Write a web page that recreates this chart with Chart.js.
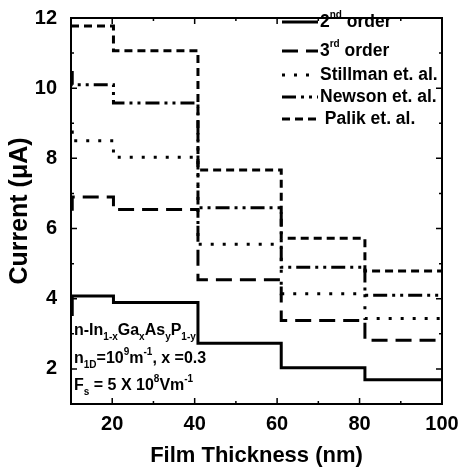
<!DOCTYPE html>
<html>
<head>
<meta charset="utf-8">
<script src="https://cdn.jsdelivr.net/npm/chart.js@4.4.1/dist/chart.umd.min.js"></script>
<style>
  html, body { margin: 0; padding: 0; background: #fff; }
</style>
</head>
<body>
<canvas id="chart" width="467" height="469"></canvas>
<script>
// step edges along the film thickness axis (nm)
const edges = [10, 10.3, 20.3, 40.8, 61, 81.3, 100];

// current (uA) on each step, starting at the matching edge
const secondOrder = [3.55, 4.08, 3.89, 2.73, 2.03, 1.69];
const thirdOrder = [6.55, 6.9, 6.54, 4.54, 3.38, 2.82];
const stillman = [8.75, 8.5, 8.03, 5.55, 4.14, 3.44];
const newson = [10.45, 10.1, 9.58, 6.59, 4.9, 4.1];
const palik = [11.77, 11.77, 11.07, 7.67, 5.72, 4.79];

const xTicksLabelled = [20, 40, 60, 80, 100];
const yTicksLabelled = [2, 4, 6, 8, 10, 12];

const FONT = "'Liberation Sans', Arial, sans-serif";

function steps(vals) {
  return edges.map((x, i) => ({ x, y: vals[Math.min(i, vals.length - 1)] }));
}

function series(label, vals, dash, legendText) {
  return {
    label,
    legendText,
    data: steps(vals),
    borderColor: "#000",
    borderWidth: 3,
    borderDash: dash,
    borderCapStyle: "butt",
    pointRadius: 0,
    stepped: "before",
    fill: false,
  };
}

// draws a run of text pieces: [text, "n" | "sup" | "sub"]
function drawRich(ctx, x, y, parts, size, small) {
  ctx.textBaseline = "middle";
  ctx.textAlign = "left";
  parts.forEach(([txt, kind]) => {
    let dy = 0;
    if (kind === "n") {
      ctx.font = `bold ${size}px ${FONT}`;
    } else {
      ctx.font = `bold ${small}px ${FONT}`;
      dy = kind === "sup" ? -7 : 6;
    }
    ctx.fillText(txt, x, y + dy);
    x += ctx.measureText(txt).width;
  });
}

const decorPlugin = {
  id: "decor",
  afterDraw(chart) {
    const { ctx, chartArea: a, scales } = chart;
    ctx.save();
    ctx.strokeStyle = "#000";
    ctx.fillStyle = "#000";

    // inward tick marks on all four sides
    ctx.lineWidth = 1.5;
    scales.x.ticks.forEach((t) => {
      const px = scales.x.getPixelForValue(t.value);
      const len = xTicksLabelled.includes(t.value) ? 6 : 3;
      ctx.beginPath();
      ctx.moveTo(px, a.bottom);
      ctx.lineTo(px, a.bottom - len);
      ctx.moveTo(px, a.top);
      ctx.lineTo(px, a.top + len);
      ctx.stroke();
    });
    scales.y.ticks.forEach((t) => {
      const py = scales.y.getPixelForValue(t.value);
      const len = yTicksLabelled.includes(t.value) ? 6 : 3;
      ctx.beginPath();
      ctx.moveTo(a.left, py);
      ctx.lineTo(a.left + len, py);
      ctx.moveTo(a.right, py);
      ctx.lineTo(a.right - len, py);
      ctx.stroke();
    });

    // frame
    ctx.lineWidth = 2;
    ctx.strokeRect(a.left, a.top, a.right - a.left, a.bottom - a.top);

    // legend
    const rowsY = [22, 51, 75, 97, 119];
    chart.data.datasets.forEach((ds, i) => {
      const y = rowsY[i];
      ctx.save();
      ctx.lineWidth = 3;
      ctx.setLineDash(ds.borderDash || []);
      ctx.beginPath();
      ctx.moveTo(282, y);
      ctx.lineTo(318, y);
      ctx.stroke();
      ctx.restore();
      drawRich(ctx, 320, y, ds.legendText, 17.5, 10);
    });

    // annotation
    const x0 = a.left + 3;
    drawRich(ctx, x0, 331, [["n-In", "n"], ["1-x", "sub"], ["Ga", "n"], ["x", "sub"],
      ["As", "n"], ["y", "sub"], ["P", "n"], ["1-y", "sub"]], 16, 10);
    drawRich(ctx, x0, 359, [["n", "n"], ["1D", "sub"], ["=10", "n"], ["9", "sup"],
      ["m", "n"], ["-1", "sup"], [", x =0.3", "n"]], 16, 10);
    drawRich(ctx, x0, 386, [["F", "n"], ["s", "sub"], [" = 5 X 10", "n"], ["8", "sup"],
      ["Vm", "n"], ["-1", "sup"]], 16, 10);

    ctx.restore();
  },
};

new Chart(document.getElementById("chart"), {
  type: "line",
  data: {
    datasets: [
      series("2nd order", secondOrder, [], [["2", "n"], ["nd", "sup"], [" order", "n"]]),
      series("3rd order", thirdOrder, [16, 8], [["3", "n"], ["rd", "sup"], [" order", "n"]]),
      series("Stillman et. al.", stillman, [3, 9], [["Stillman et. al.", "n"]]),
      series("Newson et. al.", newson, [14, 5, 3, 5, 3, 5], [["Newson et. al.", "n"]]),
      series("Palik et. al.", palik, [8, 5], [[" Palik et. al.", "n"]]),
    ],
  },
  options: {
    responsive: false,
    animation: false,
    devicePixelRatio: 1,
    layout: { padding: { left: 0, right: 25, top: 14, bottom: 0 } },
    plugins: {
      legend: { display: false },
      tooltip: { enabled: false },
    },
    scales: {
      x: {
        type: "linear",
        min: 10,
        max: 100,
        grid: { display: false },
        border: { display: false },
        ticks: {
          stepSize: 10,
          autoSkip: false,
          maxRotation: 0,
          padding: 0,
          color: "#000",
          font: { family: FONT, size: 20, weight: "bold" },
          callback: (v) => (xTicksLabelled.includes(v) ? v : ""),
        },
        title: {
          display: true,
          text: "Film Thickness (nm)",
          color: "#000",
          font: { family: FONT, size: 22, weight: "bold" },
          padding: { top: 0, bottom: 0 },
        },
        afterFit: (s) => { s.height = 65; },
      },
      y: {
        min: 1,
        max: 12,
        grid: { display: false },
        border: { display: false },
        ticks: {
          stepSize: 1,
          autoSkip: false,
          padding: 6,
          color: "#000",
          font: { family: FONT, size: 20, weight: "bold" },
          callback: (v) => (yTicksLabelled.includes(v) ? v : ""),
        },
        title: {
          display: true,
          text: "Current (\u03BCA)",
          color: "#000",
          font: { family: FONT, size: 25, weight: "bold" },
          padding: { top: 5, bottom: 0 },
        },
        afterFit: (s) => { s.width = 71; },
      },
    },
  },
  plugins: [decorPlugin],
});
</script>
</body>
</html>
